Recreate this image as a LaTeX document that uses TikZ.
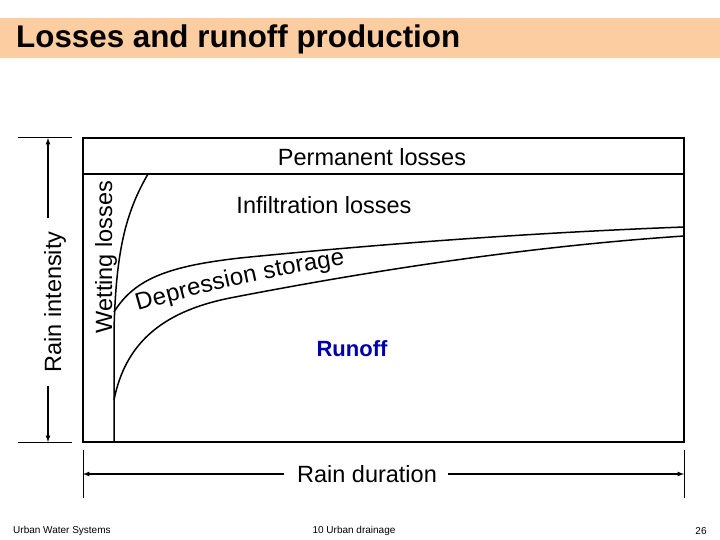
\documentclass[tikz,border=0pt]{standalone}
\usepackage{fontspec}
\setmainfont{Liberation Sans}
\usetikzlibrary{decorations.text}
\definecolor{bar}{RGB}{252,205,160}
\definecolor{runblue}{RGB}{0,0,170}
\tikzset{ln/.style={line width=1.5pt},thin1/.style={line width=1pt},
arr/.style={line width=1.2pt,-latex},
lbl/.style={inner sep=1pt,font=\fontsize{23.5}{26}\selectfont},
foot/.style={inner sep=0pt,font=\fontsize{10}{11}\selectfont}}
\begin{document}
\begin{tikzpicture}[x=1pt,y=-1pt]
\useasboundingbox (0,0) rectangle (720,540);
\fill[bar] (0,18) rectangle (720,58);
\node[anchor=west,inner sep=0pt] (title) at (16,39) {\resizebox{444pt}{!}{\bfseries Losses and runoff production}};
% box
\draw[ln] (83,138) rectangle (684,442);
\draw[ln] (83,174) -- (684,174);
\node[lbl] (perm) at (372,157) {Permanent losses};
\node[lbl] (infil) at (324,205) {Infiltration losses};
% wetting curve
\draw[ln] (114,442) -- (114,330) .. controls (116,250) and (126,212) .. (148,174);
% depression curves
\draw[ln] (114,312) .. controls (135,278) and (170,266) .. (240,258) .. controls (400,242) and (550,232) .. (684,227);
\draw[ln] (114,400) .. controls (125,345) and (160,312) .. (230,298) .. controls (400,265) and (550,245) .. (684,236);
\path[decorate,decoration={text along path,text align=fit to path,
 text={|\fontsize{24}{25}\selectfont|Depression storage}}]
 (138,311) .. controls (200,293) and (270,276) .. (345,265);
\node[lbl,rotate=90] (wet) at (106,257) {Wetting losses};
\node[lbl,font=\bfseries\fontsize{22}{24}\selectfont,text=runblue] (run) at (352,349) {Runoff};
% left dimension
\coordinate (lt) at (48,138); \coordinate (lb) at (48,442);
\draw[thin1] (18,138) -- (72,138); \draw[thin1] (18,442) -- (72,442);
\node[lbl,rotate=90] (ri) at (55,302) {Rain intensity};
\draw[arr] (lt |- ri.east) ++(0,-12) -- (lt);
\draw[arr] (lb |- ri.west) ++(0,12) -- (lb);
% bottom dimension
\draw[thin1] (83,450) -- (83,498); \draw[thin1] (684,450) -- (684,498);
\node[lbl] (rd) at (367,474) {Rain duration};
\draw[arr] (rd.west) ++(-12,0) -- (83,474);
\draw[arr] (rd.east) ++(10,0) -- (684,474);
% footer
\node[foot,anchor=west] (f1) at (13,531) {Urban Water Systems};
\node[foot] (f2) at (354,531) {10 Urban drainage};
\node[foot] (f3) at (701,531) {26};
\end{tikzpicture}
\end{document}
